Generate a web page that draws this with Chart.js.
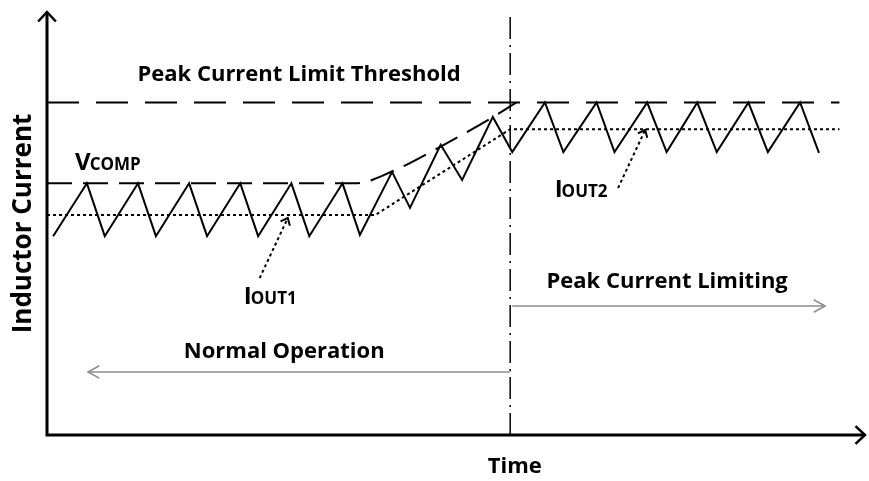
<!DOCTYPE html>
<html>
<head>
<meta charset="utf-8">
<script src="https://cdn.jsdelivr.net/npm/chart.js@4.4.0/dist/chart.umd.min.js"></script>
<style>
  body { margin: 0; background: #fff; }
  canvas { display: block; }
</style>
</head>
<body>
<canvas id="my-chart" width="869" height="481"></canvas>
<script>
// time axis 0..160, current axis 0..100 (arbitrary units)
let rippleTimes = [1.2, 7.8, 11.3, 17.8, 21.3, 27.8, 31.3, 37.8, 41.3, 47.8, 51.3, 57.8,
  61.2, 67.5, 71, 77, 81.2, 87.2, 91, 97.4, 101, 107.5, 111, 117.4, 121.2, 127.2, 131, 137.2, 141, 147.3, 151];
let rippleCurrents = [47, 59.5, 47, 59.5, 47, 59.5, 47, 59.5, 47, 59.5, 47, 59.5,
  47.3, 62.2, 53.7, 68.6, 60.3, 75.2, 66.9, 78.6, 66.9, 78.6, 66.9, 78.6, 66.9, 78.6, 66.9, 78.6, 66.9, 78.6, 66.7];

let thresholdTimes = [0, 155];
let thresholdCurrents = [78.6, 78.6];

let vcompTimes = [0, 60.4, 67.5, 77, 87, 91.8];
let vcompCurrents = [59.5, 59.5, 62.3, 68.2, 75, 78.6];

let ioutTimes = [0, 64.2, 90.6, 155];
let ioutCurrents = [52, 52, 72.3, 72.3];

let switchTimes = [90.6, 90.6];
let switchCurrents = [0, 100];

// label text and where it sits (time, current)
let labels = ['Peak Current Limit Threshold', 'Peak Current Limiting', 'Normal Operation', 'Time'];
let labelTimes = [49.3, 121.3, 46.4, 91.5];
let labelCurrents = [85.1, 36.3, 19.6, -7.6];

let subLabels = [['V', 'COMP'], ['I', 'OUT1'], ['I', 'OUT2']];
let subTimes = [5.5, 38.5, 99.3];
let subCurrents = [64.8, 33.1, 58.4];

let yTitle = 'Inductor Current';

// gray region arrows [fromTime, toTime, current]
let spanArrows = [[91.0, 152.2, 30.5], [90.6, 8.0, 14.9]];
// dotted pointers [fromTime, fromCurrent, toTime, toCurrent]
let pointers = [[41.6, 37.1, 47.1, 51.3], [111.7, 58.4, 117.0, 72.1]];

function pairs(xs, ys) {
  let out = [];
  for (let i = 0; i < xs.length; i++) {
    out.push({ x: xs[i], y: ys[i] });
  }
  return out;
}

function head(ctx, x0, y0, x1, y1, size, spread) {
  let a = Math.atan2(y1 - y0, x1 - x0);
  ctx.beginPath();
  ctx.moveTo(x1 - size * Math.cos(a - spread), y1 - size * Math.sin(a - spread));
  ctx.lineTo(x1, y1);
  ctx.lineTo(x1 - size * Math.cos(a + spread), y1 - size * Math.sin(a + spread));
  ctx.stroke();
}

let fontName = '"Open Sans", Lato, sans-serif';

let drawExtras = {
  id: 'drawExtras',
  afterDatasetsDraw(chart) {
    let ctx = chart.ctx;
    let sx = chart.scales.x;
    let sy = chart.scales.y;
    let px = v => sx.getPixelForValue(v);
    let py = v => sy.getPixelForValue(v);

    ctx.save();
    // axes
    ctx.strokeStyle = '#000';
    ctx.lineWidth = 3;
    ctx.setLineDash([]);
    ctx.beginPath();
    ctx.moveTo(px(0), py(100));
    ctx.lineTo(px(0), py(0));
    ctx.lineTo(px(160), py(0));
    ctx.stroke();
    ctx.lineWidth = 2.5;
    head(ctx, px(0), py(0), px(0), py(100), 13, 0.75);
    head(ctx, px(0), py(0), px(160), py(0), 13, 0.75);

    // gray span arrows
    ctx.strokeStyle = '#8c8c8c';
    ctx.lineWidth = 1.5;
    spanArrows.forEach(a => {
      ctx.beginPath();
      ctx.moveTo(px(a[0]), py(a[2]));
      ctx.lineTo(px(a[1]), py(a[2]));
      ctx.stroke();
      head(ctx, px(a[0]), py(a[2]), px(a[1]), py(a[2]), 13, 0.5);
    });

    // dotted pointers
    ctx.strokeStyle = '#000';
    ctx.lineWidth = 2;
    pointers.forEach(p => {
      ctx.setLineDash([3, 3]);
      ctx.beginPath();
      ctx.moveTo(px(p[0]), py(p[1]));
      ctx.lineTo(px(p[2]), py(p[3]));
      ctx.stroke();
      ctx.setLineDash([]);
      head(ctx, px(p[0]), py(p[1]), px(p[2]), py(p[3]), 8, 0.7);
    });

    // labels
    ctx.fillStyle = '#000';
    ctx.textAlign = 'center';
    ctx.textBaseline = 'middle';
    ctx.font = 'bold 22px ' + fontName;
    labels.forEach((t, i) => {
      ctx.fillText(t, px(labelTimes[i]), py(labelCurrents[i]));
    });

    // labels with small caps subscript
    ctx.textAlign = 'left';
    ctx.textBaseline = 'alphabetic';
    subLabels.forEach((s, i) => {
      let x = px(subTimes[i]);
      let y = py(subCurrents[i]) + 9;
      ctx.font = 'bold 24px ' + fontName;
      ctx.fillText(s[0], x, y);
      let w = ctx.measureText(s[0]).width;
      ctx.font = 'bold 17px ' + fontName;
      ctx.fillText(s[1], x + w - 1, y);
    });

    // y title
    ctx.translate(24, (chart.chartArea.top + chart.chartArea.bottom) / 2);
    ctx.rotate(-Math.PI / 2);
    ctx.textAlign = 'center';
    ctx.textBaseline = 'middle';
    ctx.font = 'bold 26px ' + fontName;
    ctx.fillText(yTitle, 0, 0);
    ctx.restore();
  }
};

let chartcontext = document.getElementById('my-chart').getContext('2d');

let chartConfig = {
  type: 'line',
  data: {
    datasets: [{
      label: 'Peak Current Limit Threshold',
      data: pairs(thresholdTimes, thresholdCurrents),
      borderColor: '#000',
      borderWidth: 2,
      borderDash: [32, 17]
    }, {
      label: 'VCOMP',
      data: pairs(vcompTimes, vcompCurrents),
      borderColor: '#000',
      borderWidth: 2,
      borderDash: [25, 11],
      cubicInterpolationMode: 'monotone'
    }, {
      label: 'IOUT',
      data: pairs(ioutTimes, ioutCurrents),
      borderColor: '#000',
      borderWidth: 2,
      borderDash: [3, 3]
    }, {
      label: 'Switch',
      data: pairs(switchTimes, switchCurrents),
      borderColor: '#000',
      borderWidth: 1.5,
      borderDash: [22, 6, 2, 6]
    }, {
      label: 'Inductor Current',
      data: pairs(rippleTimes, rippleCurrents),
      borderColor: '#000',
      borderWidth: 2
    }]
  },
  options: {
    responsive: false,
    animation: false,
    layout: { padding: { left: 47, right: 4, top: 12, bottom: 46 } },
    elements: { point: { radius: 0 }, line: { tension: 0 } },
    plugins: { legend: { display: false }, tooltip: { enabled: false } },
    scales: {
      x: { type: 'linear', min: 0, max: 160, display: false },
      y: { type: 'linear', min: 0, max: 100, display: false }
    }
  },
  plugins: [drawExtras]
};

let mychart = new Chart(chartcontext, chartConfig);
</script>
</body>
</html>
